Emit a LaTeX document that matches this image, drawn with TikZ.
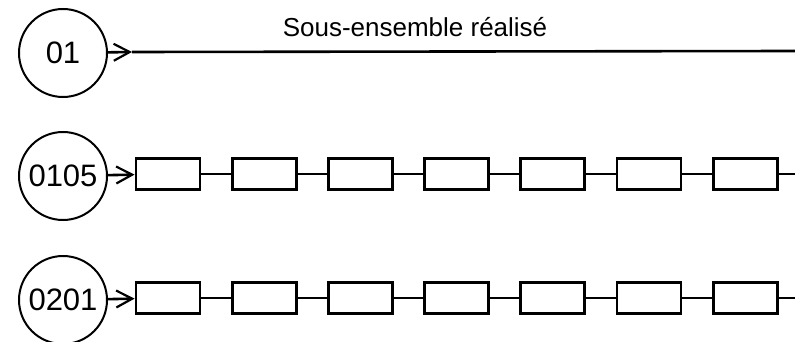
\documentclass[tikz,border=0pt]{standalone}
\usepackage{fontspec}
\setmainfont{Liberation Sans}
\usetikzlibrary{arrows.meta}
\begin{document}
\begin{tikzpicture}[x=1pt,y=-1pt,
  circ/.style={draw,circle,minimum size=88pt,inner sep=0pt,line width=2pt,
    font=\fontsize{31}{31}\selectfont},
  blk/.style={draw,rectangle,minimum width=64pt,minimum height=31pt,inner sep=0pt,line width=2.9pt},
  conn/.style={line width=2.6pt},
  chev/.style={conn,-{Straight Barb[length=16pt,width=17pt,line width=2.2pt]}}]
\useasboundingbox (0,0) rectangle (795,342);
% row 1
\node[circ] (c1) at (63,53) {01};
\coordinate (t1) at (132,52);
\coordinate (e1) at (795,51);
\draw[chev] (c1) -- (t1);
\draw[conn] (t1) -- (e1);
\node[font=\fontsize{26}{26}\selectfont] (title) at (415,27) {Sous-ensemble réalisé};
% row 2
\node[circ] (c2) at (63,176) {0105};
\foreach \i in {1,...,7} {
  \node[blk] (b2\i) at ({168+96.2*(\i-1)},174) {};
}
\coordinate (e2) at (795,174);
\draw[chev] (c2) -- (b21);
\foreach \i [evaluate=\i as \j using int(\i+1)] in {1,...,6} {
  \draw[conn] (b2\i) -- (b2\j);
}
\draw[conn] (b27) -- (e2);
% row 3
\node[circ] (c3) at (63,300) {0201};
\foreach \i in {1,...,7} {
  \node[blk] (b3\i) at ({168+96.2*(\i-1)},298) {};
}
\coordinate (e3) at (795,298);
\draw[chev] (c3) -- (b31);
\foreach \i [evaluate=\i as \j using int(\i+1)] in {1,...,6} {
  \draw[conn] (b3\i) -- (b3\j);
}
\draw[conn] (b37) -- (e3);
\end{tikzpicture}
\end{document}
